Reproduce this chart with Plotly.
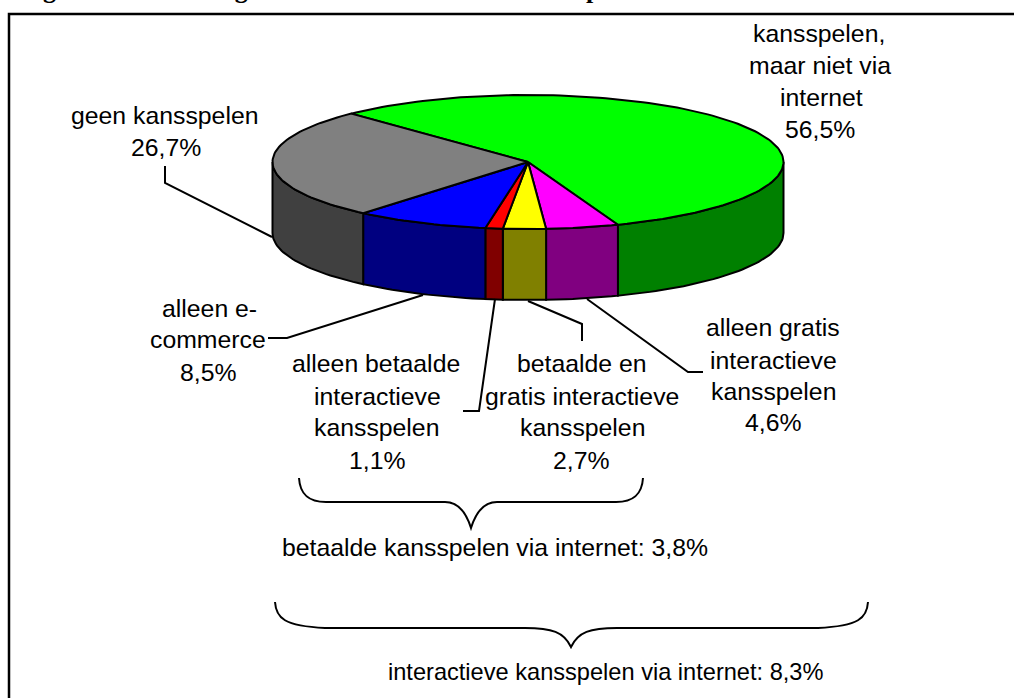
import numpy as np
import plotly.graph_objects as go

# ---- data ----
categories = ["kansspelen, maar niet via internet", "alleen gratis interactieve kansspelen",
              "betaalde en gratis interactieve kansspelen", "alleen betaalde interactieve kansspelen",
              "alleen e-commerce", "geen kansspelen"]
values = [56.5, 4.6, 2.7, 1.1, 8.5, 26.7]
top_colors = ["#00FF00", "#FF00FF", "#FFFF00", "#FF0000", "#0000FF", "#808080"]
side_colors = ["#008000", "#800080", "#808000", "#800000", "#000080", "#404040"]
title_text = "Figuur 14: Internetgebruik naar aard van de kansspelen"
label_lines = [
    ("kansspelen,", 819, 33), ("maar niet via", 820, 65), ("internet", 821, 97), ("56,5%", 820, 129),
    ("geen kansspelen", 165, 115), ("26,7%", 166, 147),
    ("alleen e-", 209, 308), ("commerce", 208, 339), ("8,5%", 208, 372),
    ("alleen betaalde", 376, 363), ("interactieve", 377, 396), ("kansspelen", 376, 427), ("1,1%", 377, 460),
    ("betaalde en", 582, 363), ("gratis interactieve", 582, 396), ("kansspelen", 582, 427), ("2,7%", 581, 460),
    ("alleen gratis", 773, 327), ("interactieve", 773, 360), ("kansspelen", 773, 391), ("4,6%", 773, 422),
    ("betaalde kansspelen via internet: 3,8%", 495, 547),
]
wide_line = ("interactieve kansspelen via internet: 8,3%", 605, 672)

# ---- pie geometry ----
CX, CY, RX, RY, DEPTH = 528, 162, 255.5, 67, 71
START = -133.8
FONT = "Liberation Sans"

def arc(a0, a1):
    t = np.radians(np.arange(a0, a1, 1.5).tolist() + [a1])
    return CX + RX * np.cos(t), CY + RY * np.sin(t)

fig = go.Figure()
shares = np.array(values) / sum(values) * 360
edges = START + np.concatenate([[0], np.cumsum(shares)])

# visible side walls (lower half of the ellipse)
for i, c in enumerate(side_colors):
    for k in (0, 360):
        a0, a1 = max(edges[i] - k, 0), min(edges[i + 1] - k, 180)
        if a1 <= a0:
            continue
        x, y = arc(a0, a1)
        fig.add_trace(go.Scatter(
            x=np.concatenate([x, x[::-1], x[:1]]),
            y=np.concatenate([y, y[::-1] + DEPTH, y[:1]]),
            mode="lines", fill="toself", fillcolor=c,
            line=dict(color="black", width=2), hoverinfo="skip", showlegend=False))

# top face
for i, c in enumerate(top_colors):
    x, y = arc(edges[i], edges[i + 1])
    fig.add_trace(go.Scatter(
        x=np.concatenate([[CX], x, [CX]]), y=np.concatenate([[CY], y, [CY]]),
        mode="lines", fill="toself", fillcolor=c, name=categories[i],
        line=dict(color="black", width=2), hoverinfo="skip", showlegend=False))

def line(path, w=2):
    return dict(type="path", path=path, xref="x", yref="y", line=dict(color="black", width=w))

shapes = [
    line("M 1016 14 L 9 14 L 9 700", 2.5),
    line("M 165 166 L 165 183 L 272 237"),
    line("M 268 338 L 287 338 L 423 295"),
    line("M 463 411 L 479 411 L 495 299"),
    line("M 582 341 L 582 324 L 528 301"),
    line("M 703 372 L 688 372 L 587 299"),
    line("M 299 478 C 300 494 308 502 326 502 L 445 502 C 458 502 466 512 471 528 "
         "C 476 512 484 502 497 502 L 616 502 C 634 502 642 494 643 478"),
    line("M 275 602 C 276 618 284 626 325 628 L 525 628 C 552 628 564 632 571 647 "
         "C 578 632 590 628 617 628 L 818 628 C 859 626 867 618 868 602"),
]

ann = [dict(x=x, y=y, text=t, xref="x", yref="y", showarrow=False, xanchor="center", yanchor="middle",
            font=dict(family=FONT, size=24.8, color="black")) for t, x, y in label_lines]
ann.append(dict(x=wide_line[1], y=wide_line[2], text=wide_line[0], xref="x", yref="y", showarrow=False,
                xanchor="center", yanchor="middle", font=dict(family=FONT, size=23.6, color="black")))
ann.append(dict(x=18, y=6, text="<b>%s</b>" % title_text, xref="x", yref="y", showarrow=False,
                xanchor="left", yanchor="bottom",
                font=dict(family="Liberation Serif", size=26, color="black")))

fig.update_layout(
    width=1014, height=698, margin=dict(l=0, r=0, t=0, b=0),
    paper_bgcolor="white", plot_bgcolor="white", showlegend=False,
    xaxis=dict(range=[0, 1014], visible=False, fixedrange=True),
    yaxis=dict(range=[698, 0], visible=False, fixedrange=True),
    shapes=shapes, annotations=ann,
)
fig.write_html("out.html", config={"displayModeBar": False},
               post_script="document.body.style.margin='0';document.documentElement.style.overflow='hidden';")
